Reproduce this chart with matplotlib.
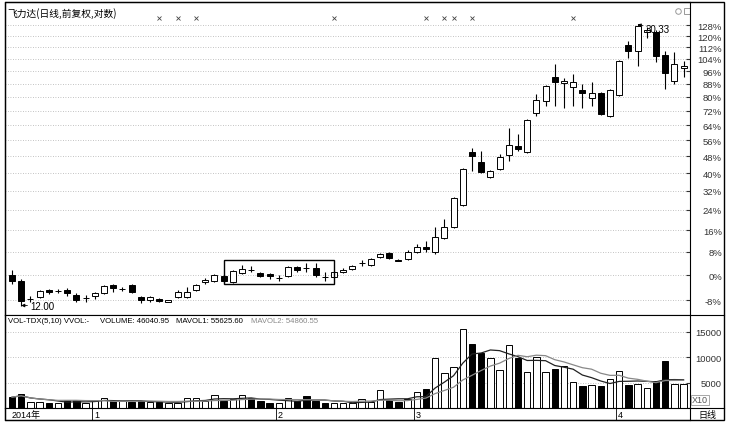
import numpy as np
import pandas as pd
import matplotlib
matplotlib.use("Agg")
import matplotlib.pyplot as plt
from matplotlib.patches import Rectangle
from matplotlib.lines import Line2D

plt.rcParams["font.family"] = ["Liberation Sans", "Noto Sans CJK SC", "DejaVu Sans"]

# daily candles (prices, front-adjusted)
opens = [13.27, 13.01, 12.26, 12.34, 12.63, 12.57, 12.63, 12.42, 12.30, 12.38,
         12.50, 12.84, 12.67, 12.84, 12.34, 12.22, 12.26, 12.14, 12.34, 12.34,
         12.63, 12.97, 13.01, 13.23, 12.97, 13.36, 13.50, 13.36, 13.32, 13.14,
         13.23, 13.62, 13.58, 13.58, 13.19, 13.18, 13.40, 13.54, 13.80, 13.71,
         14.08, 14.27, 13.96, 13.99, 14.32, 14.55, 14.32, 14.99, 15.55, 16.72,
         19.91, 19.26, 18.34, 18.82, 19.72, 20.31, 19.91, 22.65, 23.56, 25.50,
         25.00, 24.67, 24.43, 23.79, 24.19, 22.42, 24.03, 28.34, 27.78, 29.58,
         29.58, 27.42, 25.17, 26.27]
highs = [13.49, 13.10, 12.38, 12.62, 12.67, 12.67, 12.71, 12.50, 12.42, 12.55,
         12.82, 12.88, 12.76, 12.88, 12.38, 12.38, 12.30, 12.24, 12.63, 12.76,
         12.88, 13.14, 13.30, 13.27, 13.49, 13.71, 13.67, 13.40, 13.36, 13.27,
         13.67, 13.67, 13.81, 13.81, 13.40, 13.45, 13.58, 13.71, 13.94, 14.03,
         14.27, 14.31, 14.00, 14.40, 14.70, 14.85, 15.55, 15.96, 17.15, 18.90,
         20.18, 19.98, 18.74, 19.78, 21.55, 21.13, 22.20, 24.11, 24.80, 26.62,
         25.42, 25.75, 24.92, 25.08, 24.30, 24.50, 26.95, 28.71, 30.33, 30.07,
         29.78, 27.78, 27.69, 26.88]
lows = [12.88, 12.00, 12.14, 12.30, 12.46, 12.50, 12.38, 12.14, 12.14, 12.26,
        12.46, 12.55, 12.59, 12.50, 12.10, 12.14, 12.14, 12.12, 12.30, 12.30,
        12.59, 12.88, 12.97, 12.92, 12.92, 13.32, 13.40, 13.18, 13.10, 13.01,
        13.18, 13.40, 13.40, 13.18, 13.01, 13.14, 13.36, 13.50, 13.67, 13.67,
        14.03, 13.99, 13.88, 13.94, 14.27, 14.32, 14.22, 14.95, 15.50, 16.65,
        18.70, 18.60, 18.28, 18.78, 19.33, 19.98, 19.85, 22.42, 23.17, 23.17,
        23.02, 23.17, 23.02, 23.17, 22.50, 22.35, 23.95, 27.15, 26.44, 29.00,
        26.79, 24.51, 24.92, 25.50]
closes = [13.01, 12.18, 12.28, 12.59, 12.55, 12.58, 12.50, 12.22, 12.31, 12.50,
          12.80, 12.71, 12.68, 12.55, 12.22, 12.34, 12.18, 12.22, 12.55, 12.55,
          12.84, 13.05, 13.27, 13.01, 13.45, 13.54, 13.47, 13.23, 13.23, 13.15,
          13.62, 13.49, 13.57, 13.27, 13.18, 13.40, 13.49, 13.67, 13.81, 13.99,
          14.22, 14.03, 13.92, 14.32, 14.55, 14.46, 15.04, 15.55, 17.11, 18.82,
          19.65, 18.64, 18.70, 19.59, 20.37, 20.11, 22.13, 23.64, 24.75, 25.08,
          25.17, 25.08, 24.19, 24.19, 22.57, 24.43, 26.88, 27.78, 30.17, 29.78,
          27.33, 25.84, 26.62, 26.44]

# volume (x10 lots)
volumes = [2130, 2670, 1150, 1150, 1030, 890, 1540, 1540, 1030, 1340,
           2010, 1340, 1340, 1150, 1340, 1150, 1150, 1030, 1030, 1880,
           2010, 1470, 2470, 1340, 1740, 2470, 1880, 1340, 1030, 1030,
           1880, 1340, 2340, 1340, 890, 1030, 1030, 890, 1680, 1220,
           3460, 1480, 1220, 1680, 3200, 3660, 9920, 6960, 8060, 15510,
           12690, 10900, 9920, 7410, 12350, 9920, 7150, 10040, 7090, 7610,
           8260, 5170, 4310, 4510, 4310, 5770, 7270, 4450, 4780, 3990,
           5300, 9250, 4640, 4640]

# values printed in the volume header
vol_header_names = ["VOLUME", "MAVOL1", "MAVOL2"]
vol_header_values = [46040.95, 55625.60, 54860.55]

base_price = 13.27
pct_ticks = list(range(-8, 129, 8))
vol_ticks = [5000, 10000, 15000]
month_labels = ["2014年", "1", "2", "3", "4"]
month_starts = [0, 9, 29, 44, 66]
event_days = [16, 18, 20, 35, 45, 47, 48, 50, 61]
box_days = (23, 35)

W, H = 733, 427


def px(x0, y0, x1, y1):
    return [x0 / W, 1 - y1 / H, (x1 - x0) / W, (y1 - y0) / H]


fig = plt.figure(figsize=(W / 100, H / 100), dpi=100)
ax = fig.add_axes(px(5, 3, 690, 316))
axv = fig.add_axes(px(5, 316, 690, 409), sharex=ax)
axd = fig.add_axes(px(5, 409, 690, 421), sharex=ax)

o = np.array(opens)
h = np.array(highs)
l = np.array(lows)
c = np.array(closes)
x = np.arange(len(o))
up = c >= o
width = 0.66

# candles
ax.vlines(x, l, h, color="black", lw=0.8, zorder=2)
body_lo = np.minimum(o, c)
body_h = np.maximum(np.abs(c - o), 0.015)
ax.bar(x[up], body_h[up], width, bottom=body_lo[up], facecolor="white",
       edgecolor="black", lw=0.7, zorder=3)
ax.bar(x[~up], body_h[~up], width, bottom=body_lo[~up], facecolor="black",
       edgecolor="black", lw=0.7, zorder=3)

ax.set_yscale("log")
ax.set_xlim(-0.76, 73.7)
ax.set_ylim(11.63, 32.66)

tick_prices = [base_price * (1 + p / 100) for p in pct_ticks]
ax.yaxis.tick_right()
ax.set_yticks(tick_prices)
ax.set_yticklabels([f"{p}%" for p in pct_ticks])
ax.yaxis.set_minor_locator(matplotlib.ticker.NullLocator())
ax.tick_params(axis="y", direction="in", length=3, pad=23, labelsize=6.8,
               colors="#333333")
for lab in ax.get_yticklabels():
    lab.set_horizontalalignment("right")
ax.tick_params(axis="x", bottom=False, labelbottom=False)
for yv in tick_prices:
    ax.axhline(yv, color="#b0b0b0", lw=0.6, ls=(0, (1, 2)), zorder=1)

# highlighted range
b0, b1 = box_days
box_hi = h[b0:b1 + 1].max() * 1.01
box_lo = l[b0:b1 + 1].min() * 0.997
ax.add_patch(Rectangle((b0, box_lo), b1 - b0, box_hi - box_lo, fill=False,
                       edgecolor="black", lw=1.0, zorder=4))

# event markers
ax.plot(event_days, [0.95] * len(event_days), ls="none", marker="x", ms=3,
        mew=0.6, color="#444444", transform=ax.get_xaxis_transform())

# high / low notes
i_hi = int(np.argmax(h))
i_lo = int(np.argmin(l))
ax.annotate(f"{h[i_hi]:.2f}", xy=(i_hi, h[i_hi]), xytext=(8, -5),
            textcoords="offset pixels", fontsize=7, va="center",
            arrowprops=dict(arrowstyle="-|>", lw=0.6, color="black",
                            mutation_scale=5, shrinkA=0, shrinkB=0))
ax.annotate(f"{l[i_lo]:.2f}", xy=(i_lo, l[i_lo]), xytext=(9, 0),
            textcoords="offset pixels", fontsize=7, va="center",
            arrowprops=dict(arrowstyle="-|>", lw=0.6, color="black",
                            mutation_scale=5, shrinkA=0, shrinkB=0))

ax.text(0.004, 0.985, "飞力达(日线,前复权,对数)", transform=ax.transAxes,
        fontsize=7, va="top", ha="left",
        family=["Noto Sans CJK SC", "DejaVu Sans"])
ax.plot([0.982], [0.972], marker="o", ms=4, mfc="none", mec="#999999",
        mew=0.7, transform=ax.transAxes)
ax.plot([0.995], [0.972], marker="s", ms=4, mfc="none", mec="#999999",
        mew=0.7, transform=ax.transAxes, clip_on=False)

# volume panel
v = np.array(volumes)
axv.bar(x[up], v[up], 0.7, facecolor="white", edgecolor="black", lw=0.7,
        zorder=3)
axv.bar(x[~up], v[~up], 0.7, facecolor="black", edgecolor="black", lw=0.7,
        zorder=3)
vs = pd.Series(volumes, dtype=float)
ma5 = vs.rolling(5, min_periods=1).mean()
ma10 = vs.rolling(10, min_periods=1).mean()
axv.plot(x, ma5, color="#222222", lw=0.9, zorder=4)
axv.plot(x, ma10, color="#888888", lw=0.9, zorder=4)
axv.set_ylim(0, 18300)
axv.yaxis.tick_right()
axv.set_yticks(vol_ticks)
axv.set_yticklabels([str(t) for t in vol_ticks])
axv.tick_params(axis="y", direction="in", length=3, pad=23, labelsize=6.8,
                colors="#333333")
for lab in axv.get_yticklabels():
    lab.set_horizontalalignment("right")
axv.tick_params(axis="x", bottom=False, labelbottom=False)
for yv in vol_ticks:
    axv.axhline(yv, color="#b0b0b0", lw=0.6, ls=(0, (1, 2)), zorder=1)

head_y = 1 - 322 / H
fig.text(8 / W, head_y, "VOL-TDX(5,10) VVOL:-", fontsize=5.6, va="center")
head_x = [100, 176, 251]
head_col = ["black", "black", "#888888"]
for hx, name, val, col in zip(head_x, vol_header_names, vol_header_values,
                              head_col):
    fig.text(hx / W, head_y, f"{name}: {val:.2f}", fontsize=5.6, va="center",
             color=col)

# date row
axd.set_yticks([])
axd.tick_params(axis="x", bottom=False, labelbottom=False)
for m, lab in zip(month_starts, month_labels):
    if m > 0:
        axd.axvline(m - 0.3, color="black", lw=0.6)
    axd.text(m - 0.1, 0.45, lab, fontsize=6.5, va="center", ha="left",
             transform=axd.get_xaxis_transform())

for a in (ax, axv, axd):
    for s in a.spines.values():
        s.set_linewidth(0.8)

# right side frame and little boxes
fig.add_artist(Rectangle((5 / W, 1 - 421 / H), 719 / W, 418 / H, fill=False,
                         edgecolor="black", lw=1.0, transform=fig.transFigure))
for yy in (316, 409):
    fig.add_artist(Line2D([690 / W, 724 / W], [1 - yy / H, 1 - yy / H],
                          color="black", lw=0.8, transform=fig.transFigure))
fig.text(707 / W, 1 - 415.5 / H, "日线", fontsize=6.5, ha="center",
         va="center", family=["Noto Sans CJK SC", "DejaVu Sans"])
fig.text(700 / W, 1 - 401 / H, "X10", fontsize=6.5, ha="center", va="center",
         color="#555555",
         bbox=dict(boxstyle="square,pad=0.1", fc="white", ec="#999999",
                   lw=0.6))

fig.savefig("out.png", dpi=100)
